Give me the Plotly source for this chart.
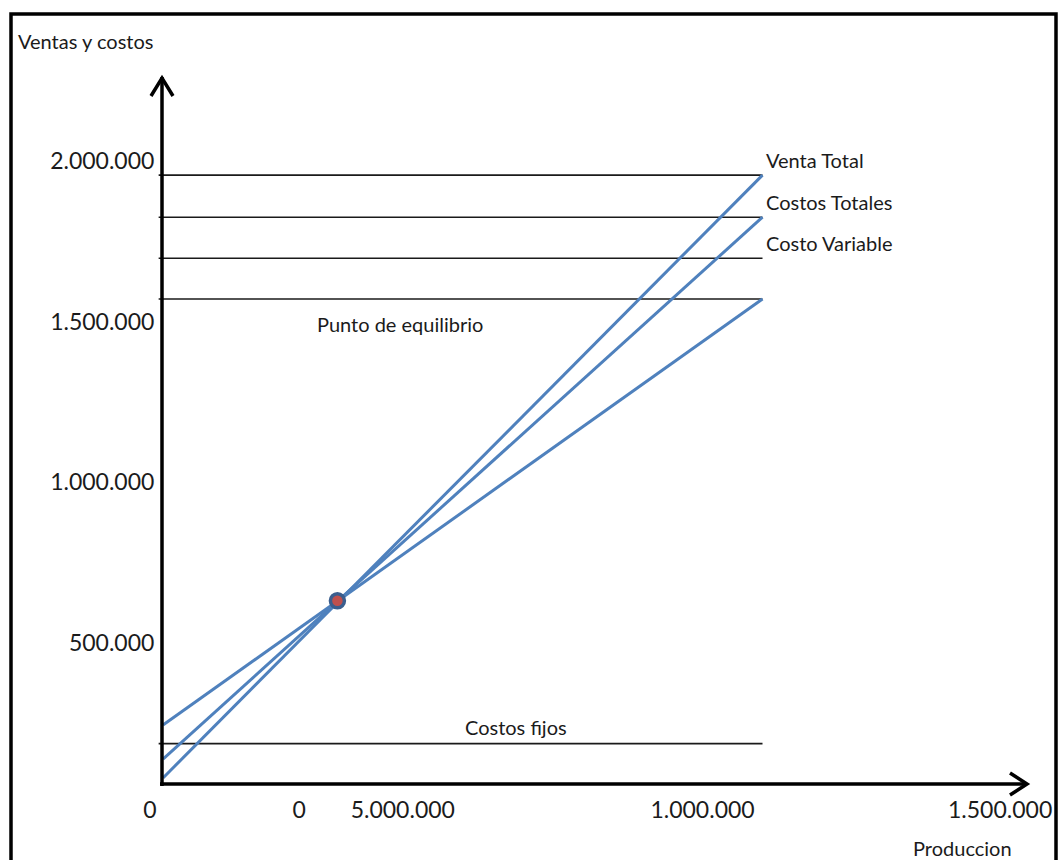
import plotly.graph_objects as go

# ---------------- data ----------------
x_line = [0, 1_100_000]                      # production range of the lines
venta_total = [78_000, 1_956_000]
costos_totales = [137_000, 1_825_000]
costo_variable = [243_000, 1_570_000]

level_names = ["Venta Total", "Costos Totales", "Costo Variable", ""]
level_values = [1_956_000, 1_825_000, 1_697_000, 1_570_000]
x_level = [-8_000, 1_100_000]

costos_fijos = 185_000
equilibrio_x = 320_000
equilibrio_y = 630_000

y_tick_vals = [500_000, 1_000_000, 1_500_000, 2_000_000]
y_tick_text = ["500.000", "1.000.000", "1.500.000", "2.000.000"]
x_tick_vals = [-24_000, 250_000, 440_000, 990_000, 1_536_000]
x_tick_text = ["0", "0", "5.000.000", "1.000.000", "1.500.000"]

# ---------------- figure ----------------
W, H = 1059, 860
FONT = "Lato, 'Open Sans', sans-serif"
TXT = "#1b1b1b"
BLUE = "#4f81bd"


def px(x, y):
    return x / W, 1 - y / H


fig = go.Figure()

# horizontal reference lines
for v in level_values + [costos_fijos]:
    fig.add_trace(go.Scatter(x=x_level, y=[v, v], mode="lines",
                             line=dict(color="#1a1a1a", width=1.6),
                             hoverinfo="skip", showlegend=False))

# blue lines
for name, ys in [("Venta Total", venta_total), ("Costos Totales", costos_totales),
                 ("Costo Variable", costo_variable)]:
    fig.add_trace(go.Scatter(x=x_line, y=ys, mode="lines", name=name,
                             line=dict(color=BLUE, width=3), showlegend=False))

# break-even point
fig.add_trace(go.Scatter(x=[equilibrio_x], y=[equilibrio_y], mode="markers",
                         marker=dict(size=14, color="#c0504d",
                                     line=dict(color="#3b5e8e", width=3.5)),
                         showlegend=False, name="Punto de equilibrio"))

# labels at the right end of lines
for name, v in zip(level_names, level_values):
    if name:
        fig.add_annotation(x=x_level[1], y=v, text=name, showarrow=False,
                           xanchor="left", yanchor="middle", xshift=1, yshift=15,
                           font=dict(family=FONT, size=20, color=TXT))

fig.add_annotation(x=435_000, y=1_500_000, text="Punto de equilibrio", showarrow=False,
                   xanchor="center", yanchor="middle", yshift=-2,
                   font=dict(family=FONT, size=20, color=TXT))
fig.add_annotation(x=648_000, y=costos_fijos, text="Costos fijos", showarrow=False,
                   xanchor="center", yanchor="middle", yshift=17,
                   font=dict(family=FONT, size=20, color=TXT))

ax, ay = px(85, 41)
fig.add_annotation(xref="paper", yref="paper", x=ax, y=ay, text="Ventas y costos",
                   xanchor="center", yanchor="middle",
                   showarrow=False, font=dict(family=FONT, size=20, color=TXT))
ax, ay = px(962, 848)
fig.add_annotation(xref="paper", yref="paper", x=ax, y=ay, text="Produccion",
                   xanchor="center", yanchor="middle",
                   showarrow=False, font=dict(family=FONT, size=20, color=TXT))

shapes = []
# outer frame
x0, y0 = px(11, 14)
x1, y1 = px(1056, 875)
shapes.append(dict(type="rect", xref="paper", yref="paper", x0=x0, y0=y1, x1=x1, y1=y0,
                   line=dict(color="black", width=3.5)))


def path(points):
    s = ""
    for i, (a, b) in enumerate(points):
        u, v = px(a, b)
        s += ("M" if i == 0 else "L") + f"{u},{v} "
    return s


# axes with arrows
shapes.append(dict(type="path", xref="paper", yref="paper",
                   path=path([(162, 786), (162, 77)]), line=dict(color="black", width=3.5)))
shapes.append(dict(type="path", xref="paper", yref="paper",
                   path=path([(151, 96), (162, 78), (173, 96)]), line=dict(color="black", width=3.5)))
shapes.append(dict(type="path", xref="paper", yref="paper",
                   path=path([(160, 784), (1026, 784)]), line=dict(color="black", width=3.5)))
shapes.append(dict(type="path", xref="paper", yref="paper",
                   path=path([(1010, 773), (1027, 784), (1010, 795)]), line=dict(color="black", width=3.5)))

fig.update_layout(
    width=W, height=H, autosize=False,
    margin=dict(l=0, r=0, t=0, b=0),
    paper_bgcolor="white", plot_bgcolor="white",
    shapes=shapes,
    xaxis=dict(range=[-299_083, 1_644_037], showgrid=False, zeroline=False, showline=False,
               anchor="free", position=1 - 784 / H, automargin=False,
               tickmode="array", tickvals=x_tick_vals, ticktext=x_tick_text,
               ticks="outside", ticklen=5, tickcolor="rgba(0,0,0,0)",
               tickfont=dict(family=FONT, size=23, color=TXT)),
    yaxis=dict(range=[-177_570, 2_501_558], showgrid=False, zeroline=False, showline=False,
               anchor="free", position=162 / W, automargin=False,
               tickmode="array", tickvals=y_tick_vals, ticktext=y_tick_text,
               ticks="outside", ticklen=3, tickcolor="rgba(0,0,0,0)",
               tickfont=dict(family=FONT, size=23, color=TXT)),
)

fig.write_html("out.html", config={"displayModeBar": False},
               post_script="document.body.style.margin='0px';document.body.style.overflow='hidden';")
